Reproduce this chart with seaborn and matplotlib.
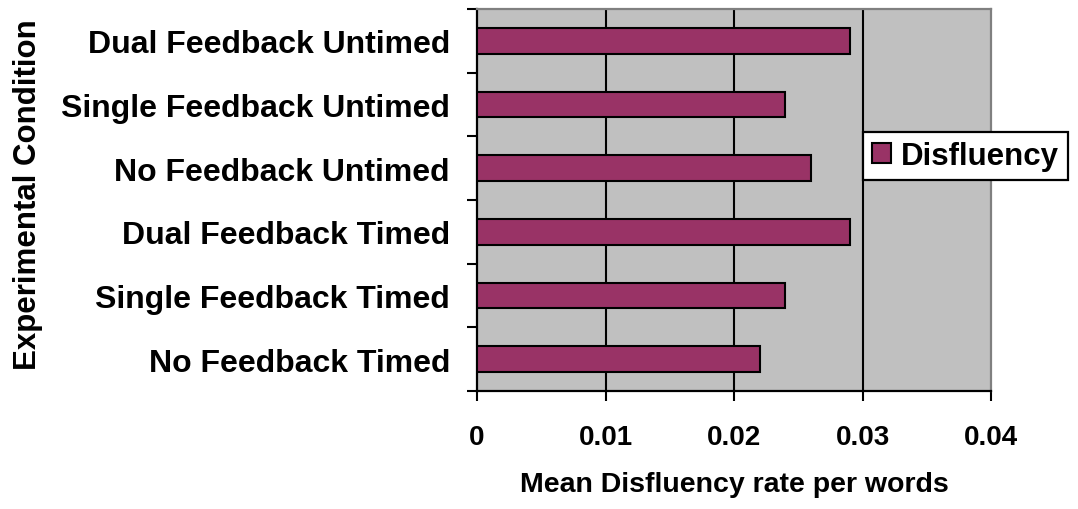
import matplotlib
matplotlib.use("Agg")
import matplotlib.pyplot as plt
from matplotlib.ticker import FixedLocator
import seaborn as sns
import pandas as pd

conditions = [
    "Dual Feedback Untimed",
    "Single Feedback Untimed",
    "No Feedback Untimed",
    "Dual Feedback Timed",
    "Single Feedback Timed",
    "No Feedback Timed",
]
disfluency = [0.029, 0.024, 0.026, 0.029, 0.024, 0.022]
x_ticks = [0, 0.01, 0.02, 0.03, 0.04]
x_tick_labels = ["0", "0.01", "0.02", "0.03", "0.04"]

df = pd.DataFrame({"Condition": conditions, "Disfluency": disfluency})

sns.set_style("white")
plt.rcParams["font.family"] = ["Liberation Sans", "DejaVu Sans"]
plt.rcParams["font.weight"] = "bold"
plt.rcParams["text.color"] = "black"
plt.rcParams["axes.labelcolor"] = "black"
plt.rcParams["xtick.color"] = "black"
plt.rcParams["ytick.color"] = "black"

fig = plt.figure(figsize=(10.78, 5.10), dpi=100)
ax = fig.add_axes([0.4425, 0.2314, 0.9193 - 0.4425, 0.9804 - 0.2314])
ax.set_facecolor("#C0C0C0")

sns.barplot(data=df, y="Condition", x="Disfluency", order=conditions,
            orient="h", color="#993366", saturation=1, width=0.4,
            edgecolor="black", linewidth=1.5, ax=ax, zorder=3)

ax.set_xlim(0, 0.04)
ax.set_ylim(len(conditions) - 0.5, -0.5)

# vertical gridlines
for xv in x_ticks[1:-1]:
    ax.axvline(xv, color="black", lw=1.5, zorder=1)

ax.set_xticks(x_ticks)
ax.set_xticklabels(x_tick_labels, fontsize=20, fontweight="bold", color="black")
ax.tick_params(axis="x", direction="out", length=7.5, width=1.5,
               color="black", pad=16.5, bottom=True)

# category labels at centres, ticks at category boundaries
ax.tick_params(axis="y", which="major", length=0, pad=19.5, labelsize=23,
               labelcolor="black")
for lbl in ax.get_yticklabels():
    lbl.set_fontweight("bold")
ax.yaxis.set_minor_locator(FixedLocator([i - 0.5 for i in range(len(conditions) + 1)]))
ax.tick_params(axis="y", which="minor", direction="out", length=7.5,
               width=1.5, color="black", left=True)

for side in ["left", "bottom"]:
    ax.spines[side].set_color("black")
    ax.spines[side].set_linewidth(1.6)
for side in ["top", "right"]:
    ax.spines[side].set_visible(True)
    ax.spines[side].set_color("#808080")
    ax.spines[side].set_linewidth(1.6)

ax.set_xlabel("Mean Disfluency rate per words", fontsize=20.5,
              fontweight="bold", labelpad=15, color="black")
ax.set_ylabel("Experimental Condition", fontsize=22.5, fontweight="bold",
              color="black")
ax.yaxis.set_label_coords(28 / 1078, 1 - 195 / 510, transform=fig.transFigure)
ax.yaxis.label.set_va("center")

leg = ax.legend(handles=[ax.containers[0]], labels=["Disfluency"],
                loc="center left",
                bbox_to_anchor=(863 / 1078, 1 - 157 / 510),
                bbox_transform=fig.transFigure,
                fancybox=False, shadow=False, framealpha=1,
                edgecolor="black", fontsize=22.5,
                handlelength=0.6, handleheight=0.6,
                handletextpad=0.3, borderpad=0.3, borderaxespad=0)
leg.get_frame().set_linewidth(1.6)
for t in leg.get_texts():
    t.set_fontweight("bold")
    t.set_color("black")
leg.set_zorder(10)

fig.savefig("out.png", dpi=100)
